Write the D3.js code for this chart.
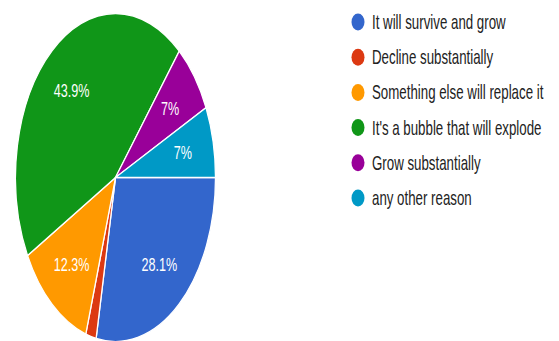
<!DOCTYPE html>
<html>
<head>
<meta charset="utf-8">
<script src="https://cdn.jsdelivr.net/npm/d3@7"></script>
<style>
body{margin:0;background:#fff;}
svg{display:block;font-family:Arial,"Liberation Sans",sans-serif;}
.t_pct{fill:#fff;font-size:17.5px;}
.t_leg{fill:#222;font-size:20px;}
</style>
</head>
<body>
<svg width="559" height="341"></svg>
<script>

/* ----------------------------------------------------------
data
---------------------------------------------------------- */

var answers = ["It will survive and grow","Decline substantially","Something else will replace it","It's a bubble that will explode","Grow substantially","any other reason"];
var shares = [28.1,1.7,12.3,43.9,7,7];
var pctLabels = ["28.1%","","12.3%","43.9%","7%","7%"];
var colors = ["#3366cc","#dc3912","#ff9900","#109618","#990099","#0099c6"];

/* ----------------------------------------------------------
setting
---------------------------------------------------------- */
var svg = d3.select("svg");
var cx = 115.5, cy = 177.5;
var R = 164;          // vertical radius
var sx = 100 / R;     // picture is squeezed sideways

var pie = d3.pie().sort(null).value(function(d){return d;})
	.startAngle(Math.PI/2).endAngle(Math.PI/2 + Math.PI*2);
var arc = d3.arc().innerRadius(0).outerRadius(R);
var labelArc = d3.arc().innerRadius(R*0.69).outerRadius(R*0.69);

var arcs = pie(shares);

var gPie = svg.append("g").attr("transform","translate("+cx+","+cy+") scale("+sx+",1)");
gPie.selectAll("path").data(arcs).enter().append("path")
	.attr("d", arc)
	.style("fill", function(d,i){return colors[i];})
	.style("stroke","#fff").style("stroke-width",1.3).attr("vector-effect","non-scaling-stroke");

svg.selectAll(".t_pct").data(arcs).enter().append("text")
	.attr("class","t_pct")
	.attr("text-anchor","middle")
	.attr("transform", function(d){
		var c = labelArc.centroid(d);
		return "translate("+(cx + c[0]*sx)+","+(cy + c[1] + 6.5)+") scale(0.72,1)";
	})
	.text(function(d,i){return pctLabels[i];});

//legend
var gLegend = svg.append("g").attr("transform","translate(358,22)");
var legs = gLegend.selectAll(".legends").data(answers).enter().append("g")
	.attr("class","legends")
	.attr("transform", function(d,i){return "translate(0,"+(i*35.2)+")";});

legs.append("ellipse").attr("rx",6.5).attr("ry",8.5)
	.style("fill", function(d,i){return colors[i];});
legs.append("text").attr("class","t_leg")
	.attr("transform","translate(14,7) scale(0.665,1)")
	.text(function(d){return d;});
</script>
</body>
</html>
